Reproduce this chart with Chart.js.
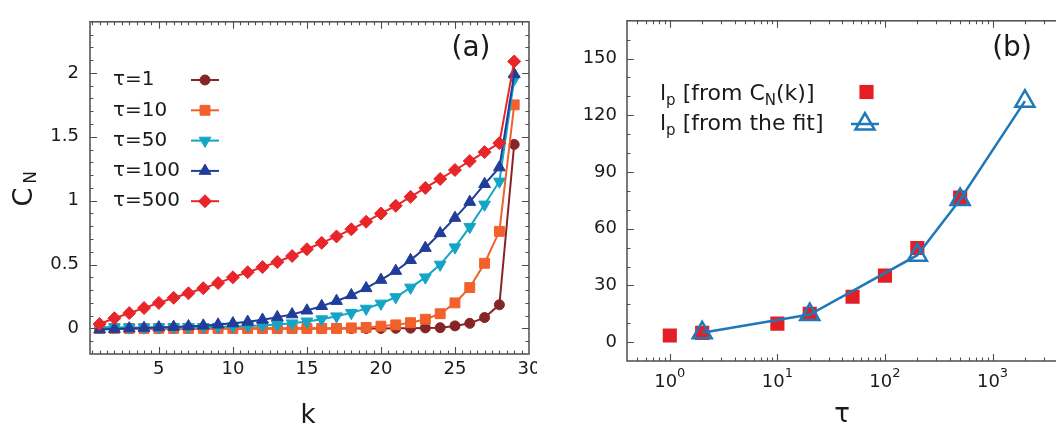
<!DOCTYPE html>
<html>
<head>
<meta charset="utf-8">
<script src="https://cdn.jsdelivr.net/npm/chart.js@4.4.0/dist/chart.umd.min.js"></script>
<style>
  html, body { margin: 0; padding: 0; background: #fff; overflow: hidden; }
  #wrapA { position: absolute; left: 0; top: 0; width: 537px; height: 427px; overflow: hidden; }
  #wrapB { position: absolute; left: 540px; top: 0; width: 540px; height: 427px; }
</style>
</head>
<body>
<div id="wrapA"><canvas id="chartA" width="570" height="427"></canvas></div>
<div id="wrapB"><canvas id="chartB" width="540" height="427"></canvas></div>
<script>
// ---- panel (a) data: C_N versus k ----
const kValues = [1, 2, 3, 4, 5, 6, 7, 8, 9, 10, 11, 12, 13, 14, 15, 16, 17, 18, 19, 20, 21, 22, 23, 24, 25, 26, 27, 28, 29];
const cnTau1 = [0, 0, 0, 0, 0, 0, 0, 0, 0, 0, 0, 0, 0, 0, 0, 0, 0, 0, 0, 0, 0.001, 0.002, 0.004, 0.006, 0.02, 0.04, 0.085, 0.185, 1.44];
const cnTau10 = [0, 0, 0, 0, 0, 0, 0, 0, 0, 0, 0, 0, 0, 0, 0, 0, 0, 0.004, 0.008, 0.018, 0.028, 0.045, 0.072, 0.115, 0.2, 0.32, 0.51, 0.76, 1.75];
const cnTau50 = [0.012, 0.01, 0.008, 0.008, 0.009, 0.01, 0.011, 0.012, 0.014, 0.016, 0.019, 0.024, 0.03, 0.04, 0.055, 0.072, 0.095, 0.122, 0.155, 0.195, 0.245, 0.32, 0.4, 0.5, 0.635, 0.795, 0.97, 1.15, 1.95];
const cnTau100 = [-0.008, -0.004, 0, 0.004, 0.008, 0.012, 0.017, 0.022, 0.03, 0.04, 0.052, 0.068, 0.088, 0.11, 0.14, 0.175, 0.215, 0.26, 0.315, 0.38, 0.45, 0.535, 0.63, 0.745, 0.865, 0.99, 1.13, 1.26, 1.99];
const cnTau500 = [0.035, 0.08, 0.12, 0.16, 0.2, 0.24, 0.275, 0.315, 0.355, 0.4, 0.44, 0.48, 0.52, 0.567, 0.62, 0.67, 0.72, 0.776, 0.835, 0.9, 0.96, 1.03, 1.1, 1.17, 1.24, 1.31, 1.38, 1.45, 2.09];
const seriesLabelsA = ["τ=1", "τ=10", "τ=50", "τ=100", "τ=500"];
const xTicksA = [5, 10, 15, 20, 25, 30];
const yTicksA = [0, 0.5, 1, 1.5, 2];

// ---- panel (b) data: l_p versus tau ----
const tauFromCN = [1, 2, 10, 20, 50, 100, 200, 500];
const lpFromCN = [3.5, 4.9, 9.8, 15, 24, 35.2, 49.8, 76.5];
const tauFromFit = [2, 20, 200, 500, 2000];
const lpFromFit = [4.9, 14.6, 46, 75.5, 127.5];
const xTicksB = [1, 10, 100, 1000];
const yTicksB = [0, 30, 60, 90, 120, 150];

Chart.defaults.font.family = "'DejaVu Sans', sans-serif";
Chart.defaults.color = "#1a1a1a";

const textColor = "#1a1a1a";
const frameColor = "#4d4d4d";

function steps(start, end, step) {
  const out = [];
  for (let v = start; v <= end + 1e-9; v += step) out.push(Math.round(v * 1000) / 1000);
  return out;
}

function toPoints(xs, ys) {
  return xs.map((x, i) => ({ x: x, y: ys[i] }));
}

// frame with inward ticks on all four sides, like the original figure
function drawFrame(chart, xMajor, xMinor, yMajor, yMinor) {
  const { ctx, chartArea: a } = chart;
  const xs = chart.scales.x, ys = chart.scales.y;
  ctx.save();
  ctx.strokeStyle = frameColor;
  ctx.lineWidth = 1.5;
  ctx.strokeRect(a.left, a.top, a.right - a.left, a.bottom - a.top);
  ctx.lineWidth = 1.1;
  ctx.beginPath();
  const xt = (vals, len) => vals.forEach(v => {
    const px = Math.round(xs.getPixelForValue(v)) + 0.5;
    if (px < a.left + 1 || px > a.right - 1) return;
    ctx.moveTo(px, a.bottom); ctx.lineTo(px, a.bottom - len);
    ctx.moveTo(px, a.top); ctx.lineTo(px, a.top + len);
  });
  const yt = (vals, len) => vals.forEach(v => {
    const py = Math.round(ys.getPixelForValue(v)) + 0.5;
    if (py < a.top + 1 || py > a.bottom - 1) return;
    ctx.moveTo(a.left, py); ctx.lineTo(a.left + len, py);
    ctx.moveTo(a.right, py); ctx.lineTo(a.right - len, py);
  });
  xt(xMajor, 7); xt(xMinor, 3.5);
  yt(yMajor, 7); yt(yMinor, 3.5);
  ctx.stroke();
  ctx.restore();
}

function marker(ctx, style, radius, rotation, color, fill, width, x, y) {
  ctx.save();
  ctx.strokeStyle = color;
  ctx.fillStyle = fill;
  ctx.lineWidth = width;
  Chart.helpers.drawPoint(ctx, { pointStyle: style, radius: radius, rotation: rotation, borderWidth: width }, x, y);
  ctx.restore();
}

// ---------------- panel (a) ----------------
const colorsA = ["#862525", "#f2602b", "#14a5c6", "#1f3d99", "#e8262a"];
const stylesA = ["circle", "rect", "triangle", "triangle", "rectRot"];
const rotationsA = [0, 0, 180, 0, 0];
const radiiA = [5, 7, 6.8, 6.8, 6.5];
const valuesA = [cnTau1, cnTau10, cnTau50, cnTau100, cnTau500];

const datasetsA = valuesA.map((vals, i) => ({
  label: seriesLabelsA[i],
  data: toPoints(kValues, vals),
  borderColor: colorsA[i],
  backgroundColor: colorsA[i],
  borderWidth: 2,
  pointStyle: stylesA[i],
  pointRotation: rotationsA[i],
  pointRadius: radiiA[i],
  pointBorderWidth: 1,
  pointBackgroundColor: colorsA[i],
  pointBorderColor: colorsA[i],
  order: 4 - i,
  tension: 0
}));

const panelA = {
  id: "panelA",
  afterDraw(chart) {
    const ctx = chart.ctx;
    drawFrame(chart, xTicksA, steps(0.5, 30, 0.5), yTicksA, steps(-0.2, 2.4, 0.1));
    ctx.save();
    ctx.fillStyle = textColor;
    // legend: text on the left, line + marker on the right
    ctx.font = "20px 'DejaVu Sans'";
    ctx.textBaseline = "middle";
    ctx.textAlign = "left";
    seriesLabelsA.forEach((lab, i) => {
      const y = 80 + i * 30.3;
      ctx.fillStyle = textColor;
      ctx.fillText(lab, 113, y);
      ctx.strokeStyle = colorsA[i];
      ctx.lineWidth = 2;
      ctx.beginPath(); ctx.moveTo(191, y); ctx.lineTo(219, y); ctx.stroke();
      marker(ctx, stylesA[i], radiiA[i], rotationsA[i], colorsA[i], colorsA[i], 1, 205, y);
    });
    // panel tag
    ctx.fillStyle = textColor;
    ctx.font = "28px 'DejaVu Sans'";
    ctx.textAlign = "center";
    ctx.textBaseline = "alphabetic";
    ctx.fillText("(a)", 471, 56);
    // x title
    ctx.font = "26px 'DejaVu Sans'";
    ctx.fillText("k", 308, 423);
    // y title C_N, rotated
    ctx.save();
    ctx.translate(0, 197);
    ctx.rotate(-Math.PI / 2);
    ctx.textAlign = "center";
    ctx.font = "27px 'DejaVu Sans'";
    ctx.fillText("C", 0, 32);
    ctx.font = "17px 'DejaVu Sans'";
    ctx.fillText("N", 19.5, 36);
    ctx.restore();
    ctx.restore();
  }
};

new Chart(document.getElementById("chartA"), {
  type: "line",
  data: { datasets: datasetsA },
  options: {
    responsive: false,
    animation: false,
    events: [],
    layout: { autoPadding: false, padding: { left: 0, top: 13, right: 41, bottom: 0 } },
    plugins: { legend: { display: false }, tooltip: { enabled: false } },
    scales: {
      x: {
        type: "linear",
        min: 0.35,
        max: 30,
        grid: { display: false, drawTicks: false },
        border: { display: false },
        ticks: { font: { size: 18 }, color: textColor, padding: 5, maxRotation: 0, autoSkip: false },
        afterBuildTicks: s => { s.ticks = xTicksA.map(v => ({ value: v })); },
        afterFit: s => { s.height = 73; }
      },
      y: {
        type: "linear",
        min: -0.2,
        max: 2.4,
        grid: { display: false, drawTicks: false },
        border: { display: false },
        ticks: { font: { size: 18 }, color: textColor, padding: 11, callback: v => String(v) },
        afterBuildTicks: s => { s.ticks = yTicksA.map(v => ({ value: v })); },
        afterFit: s => { s.width = 90; }
      }
    }
  },
  plugins: [panelA]
});

// ---------------- panel (b) ----------------
const redB = "#e31e24";
const blueB = "#1f78b8";

function logMinor(min, max) {
  const out = [];
  [0.1, 1, 10, 100, 1000].forEach(d => {
    for (let m = 2; m <= 9; m++) {
      const v = m * d;
      if (v >= min && v <= max) out.push(v);
    }
  });
  return out;
}

const panelB = {
  id: "panelB",
  afterDraw(chart) {
    const ctx = chart.ctx;
    const xs = chart.scales.x;
    drawFrame(chart, xTicksB, logMinor(0.4, 6100), yTicksB, steps(-10, 170, 10));
    ctx.save();
    ctx.fillStyle = textColor;
    // log tick labels 10^n
    ctx.textBaseline = "alphabetic";
    ctx.textAlign = "left";
    xTicksB.forEach(v => {
      const px = xs.getPixelForValue(v);
      const exp = String(Math.round(Math.log10(v)));
      ctx.font = "18px 'DejaVu Sans'";
      const w1 = ctx.measureText("10").width;
      ctx.font = "13px 'DejaVu Sans'";
      const w2 = ctx.measureText(exp).width;
      const x0 = px - (w1 + w2) / 2;
      ctx.font = "18px 'DejaVu Sans'";
      ctx.fillText("10", x0, 387);
      ctx.font = "13px 'DejaVu Sans'";
      ctx.fillText(exp, x0 + w1, 377);
    });
    // legend with subscripts
    const legendRow = (parts, y) => {
      let x = 120;
      parts.forEach(p => {
        ctx.font = (p.sub ? 15 : 22) + "px 'DejaVu Sans'";
        ctx.fillText(p.t, x, y + (p.sub ? 5 : 0));
        x += ctx.measureText(p.t).width;
      });
    };
    ctx.fillStyle = textColor;
    legendRow([{ t: "l" }, { t: "p", sub: true }, { t: " [from C" }, { t: "N", sub: true }, { t: "(k)]" }], 100);
    legendRow([{ t: "l" }, { t: "p", sub: true }, { t: " [from the fit]" }], 130);
    marker(ctx, "rect", 10, 0, redB, redB, 0, 326.5, 92);
    ctx.strokeStyle = blueB;
    ctx.lineWidth = 2.5;
    ctx.beginPath(); ctx.moveTo(311, 124); ctx.lineTo(339, 124); ctx.stroke();
    marker(ctx, "triangle", 11, 0, blueB, "rgba(0,0,0,0)", 2.5, 325, 124);
    // panel tag and x title
    ctx.textAlign = "center";
    ctx.font = "28px 'DejaVu Sans'";
    ctx.fillText("(b)", 472, 56);
    ctx.font = "26px 'DejaVu Sans'";
    ctx.fillText("τ", 302, 422);
    ctx.restore();
  }
};

new Chart(document.getElementById("chartB"), {
  type: "line",
  data: {
    datasets: [
      {
        label: "l_p [from the fit]",
        data: toPoints(tauFromFit, lpFromFit),
        borderColor: blueB,
        borderWidth: 2.5,
        pointStyle: "triangle",
        pointRadius: 11,
        pointBorderWidth: 2.5,
        pointBorderColor: blueB,
        pointBackgroundColor: "rgba(0,0,0,0)",
        tension: 0,
        order: 0
      },
      {
        label: "l_p [from C_N(k)]",
        data: toPoints(tauFromCN, lpFromCN),
        showLine: false,
        pointStyle: "rect",
        pointRadius: 10,
        pointBorderWidth: 0,
        pointBackgroundColor: redB,
        pointBorderColor: redB,
        order: 1
      }
    ]
  },
  options: {
    responsive: false,
    animation: false,
    events: [],
    layout: { autoPadding: false, padding: { left: 0, top: 19, right: 3, bottom: 0 } },
    plugins: { legend: { display: false }, tooltip: { enabled: false } },
    scales: {
      x: {
        type: "logarithmic",
        min: 0.4,
        max: 6100,
        grid: { display: false, drawTicks: false },
        border: { display: false },
        ticks: { display: false },
        afterBuildTicks: s => { s.ticks = xTicksB.map(v => ({ value: v })); },
        afterFit: s => { s.height = 66; }
      },
      y: {
        type: "linear",
        min: -10,
        max: 170,
        grid: { display: false, drawTicks: false },
        border: { display: false },
        ticks: { font: { size: 18 }, color: textColor, padding: 10 },
        afterBuildTicks: s => { s.ticks = yTicksB.map(v => ({ value: v })); },
        afterFit: s => { s.width = 87; }
      }
    }
  },
  plugins: [panelB]
});
</script>
</body>
</html>
